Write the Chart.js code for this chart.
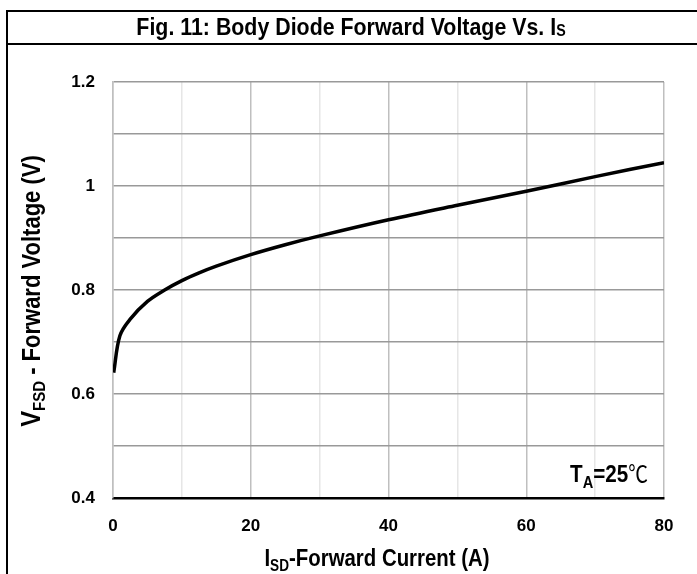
<!DOCTYPE html>
<html>
<head>
<meta charset="utf-8">
<script src="https://cdn.jsdelivr.net/npm/chart.js@4.4.1/dist/chart.umd.min.js"></script>
<style>
  html, body { margin: 0; padding: 0; background: #fff; }
  canvas { display: block; }
</style>
</head>
<body>
<canvas id="diodeChart" width="697" height="574"></canvas>
<script>
// forward current (A) and forward voltage (V)
var current = [0.1, 1, 2.5, 5, 7.5, 10, 12.5, 15, 20, 25, 30, 40, 50, 60, 70, 80];
var voltage = [0.641, 0.712, 0.744, 0.778, 0.800, 0.818, 0.833, 0.846, 0.868, 0.887, 0.904, 0.935, 0.963, 0.990, 1.018, 1.045];

var xTicks = [0, 20, 40, 60, 80];
var yTicks = [0.4, 0.6, 0.8, 1, 1.2];

var FONT = '"Liberation Sans Narrow", "Arial Narrow", "Liberation Sans", Arial, sans-serif';

function font(size) {
  return 'bold ' + size + 'px ' + FONT;
}

// draw a run of text pieces (for subscripts), squeezed by sx to look condensed
function drawRich(ctx, parts, x, y, align, sx) {
  var w = 0;
  parts.forEach(function (p) {
    ctx.font = p.font;
    w += ctx.measureText(p.t).width;
  });
  var start = align === 'center' ? -w / 2 : (align === 'right' ? -w : 0);
  ctx.save();
  ctx.translate(x, y);
  ctx.scale(sx, 1);
  ctx.textAlign = 'left';
  ctx.textBaseline = 'alphabetic';
  var cx = start;
  parts.forEach(function (p) {
    ctx.font = p.font;
    ctx.fillText(p.t, cx, p.dy || 0);
    cx += ctx.measureText(p.t).width;
  });
  ctx.restore();
}

var decor = {
  id: 'decor',
  afterDraw: function (chart) {
    var ctx = chart.ctx;
    var area = chart.chartArea;
    ctx.save();
    ctx.fillStyle = '#000';
    ctx.strokeStyle = '#000';
    ctx.lineWidth = 2;

    // frame and title band
    ctx.beginPath();
    ctx.moveTo(6, 11); ctx.lineTo(697, 11);
    ctx.moveTo(7, 10); ctx.lineTo(7, 574);
    ctx.moveTo(6, 44); ctx.lineTo(697, 44);
    ctx.stroke();

    // title
    drawRich(ctx, [
      { t: 'Fig. 11: Body Diode Forward Voltage Vs. I', font: font(24) },
      { t: 'S', font: font(16), dy: 1 }
    ], 351, 35, 'center', 0.89);

    // x axis title
    drawRich(ctx, [
      { t: 'I', font: font(24) },
      { t: 'SD', font: font(16), dy: 5 },
      { t: '-Forward Current (A)', font: font(24) }
    ], 377, 566, 'center', 0.85);

    // y axis title
    ctx.save();
    ctx.translate(40, 291);
    ctx.rotate(-Math.PI / 2);
    drawRich(ctx, [
      { t: 'V', font: font(27) },
      { t: 'FSD', font: font(17), dy: 5 },
      { t: ' - Forward Voltage (V)', font: font(25) }
    ], 0, 0, 'center', 0.88);
    ctx.restore();

    // temperature note
    drawRich(ctx, [
      { t: 'T', font: font(24) },
      { t: 'A', font: font(17), dy: 6 },
      { t: '=25', font: font(24) },
      { t: '\u2103', font: '23px "Noto Sans CJK SC", "DejaVu Sans", sans-serif' }
    ], area.right - 16, area.bottom - 16, 'right', 0.86);

    ctx.restore();
  }
};

var ctx = document.getElementById('diodeChart').getContext('2d');
var chart = new Chart(ctx, {
  type: 'line',
  data: {
    datasets: [{
      data: current.map(function (c, i) { return { x: c, y: voltage[i] }; }),
      borderColor: '#000',
      borderWidth: 3.5,
      pointRadius: 0,
      fill: false,
      tension: 0.35
    }]
  },
  options: {
    responsive: false,
    animation: false,
    layout: { padding: { top: 82, right: 33, left: 0, bottom: 0 } },
    plugins: {
      legend: { display: false },
      title: { display: false },
      tooltip: { enabled: false }
    },
    scales: {
      x: {
        type: 'linear',
        min: 0,
        max: 80,
        afterFit: function (s) { s.height = 76; },
        ticks: {
          stepSize: 10,
          autoSkip: false,
          maxRotation: 0,
          padding: 18,
          color: '#000',
          font: { family: FONT, size: 17, weight: 'bold' },
          callback: function (v) { return xTicks.indexOf(v) >= 0 ? String(v) : ''; }
        },
        grid: {
          drawTicks: false,
          lineWidth: 1.5,
          color: function (c) { return c.tick && c.tick.value % 20 === 0 ? '#bfbfbf' : '#e6e6e6'; }
        },
        border: { color: '#000', width: 2.5 }
      },
      y: {
        min: 0.4,
        max: 1.2,
        afterFit: function (s) { s.width = 113; },
        ticks: {
          stepSize: 0.1,
          autoSkip: false,
          padding: 18,
          color: '#000',
          font: { family: FONT, size: 17, weight: 'bold' },
          callback: function (v) {
            var r = Math.round(v * 10) / 10;
            return yTicks.indexOf(r) >= 0 ? String(r) : '';
          }
        },
        grid: {
          drawTicks: false,
          lineWidth: 1.5,
          color: '#999'
        },
        border: { color: '#bfbfbf', width: 1.5 }
      }
    }
  },
  plugins: [decor]
});
</script>
</body>
</html>
